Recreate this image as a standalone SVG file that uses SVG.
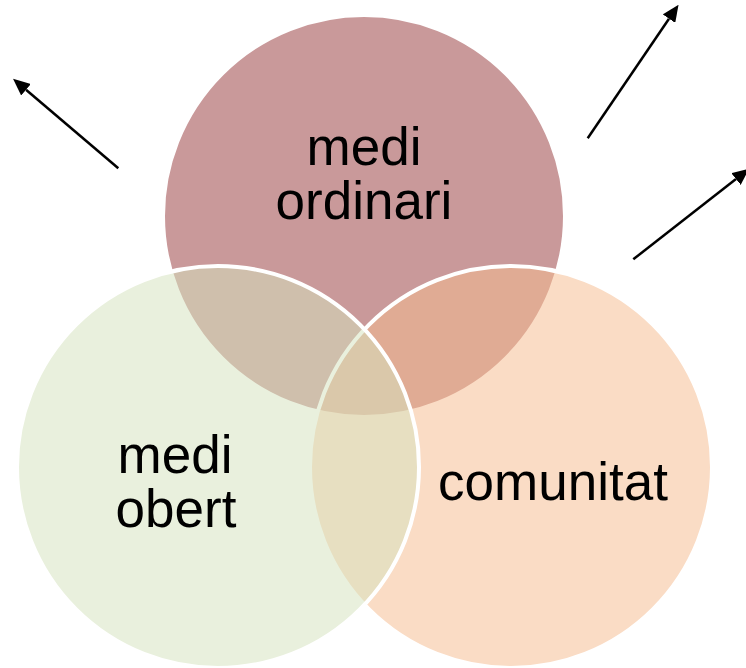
<svg xmlns="http://www.w3.org/2000/svg" width="746" height="668" viewBox="0 0 746 668">
  <style>
    .c { stroke: #FFFFFF; stroke-width: 4; }
    .t { font-family: "Liberation Sans", Arial, sans-serif; font-size: 53px; fill: #000000; text-anchor: middle; }
    .a { stroke: #000000; stroke-width: 2.5; fill: none; }
  </style>
  <defs>
    <marker id="ah" markerUnits="userSpaceOnUse" markerWidth="17" markerHeight="15" refX="0" refY="7.5" orient="auto">
      <path d="M0,0 L17,7.5 L0,15 Z" fill="#000000"/>
    </marker>
  </defs>
  <rect width="746" height="668" fill="#FFFFFF"/>
  <g id="node-medi-ordinari">
    <circle class="c" cx="364" cy="216" r="201" fill="#C9999A"/>
  </g>
  <g id="node-comunitat">
    <circle class="c" cx="511" cy="467" r="201" fill="#F5BC8F" fill-opacity="0.52"/>
  </g>
  <g id="node-medi-obert">
    <circle class="c" cx="218" cy="467" r="201" fill="#D5E2BE" fill-opacity="0.52"/>
  </g>
  <g id="labels">
    <text class="t" x="364" y="165">medi</text>
    <text class="t" x="364" y="219">ordinari</text>
    <text class="t" x="175" y="473">medi</text>
    <text class="t" x="176" y="527">obert</text>
    <text class="t" x="553" y="500">comunitat</text>
  </g>
  <g id="connectors">
    <line class="a" x1="118.3" y1="168.3" x2="26" y2="89.8" marker-end="url(#ah)"/>
    <line class="a" x1="587.7" y1="138.3" x2="669" y2="18.7" marker-end="url(#ah)"/>
    <line class="a" x1="633.3" y1="259.3" x2="736" y2="179" marker-end="url(#ah)"/>
  </g>
</svg>
